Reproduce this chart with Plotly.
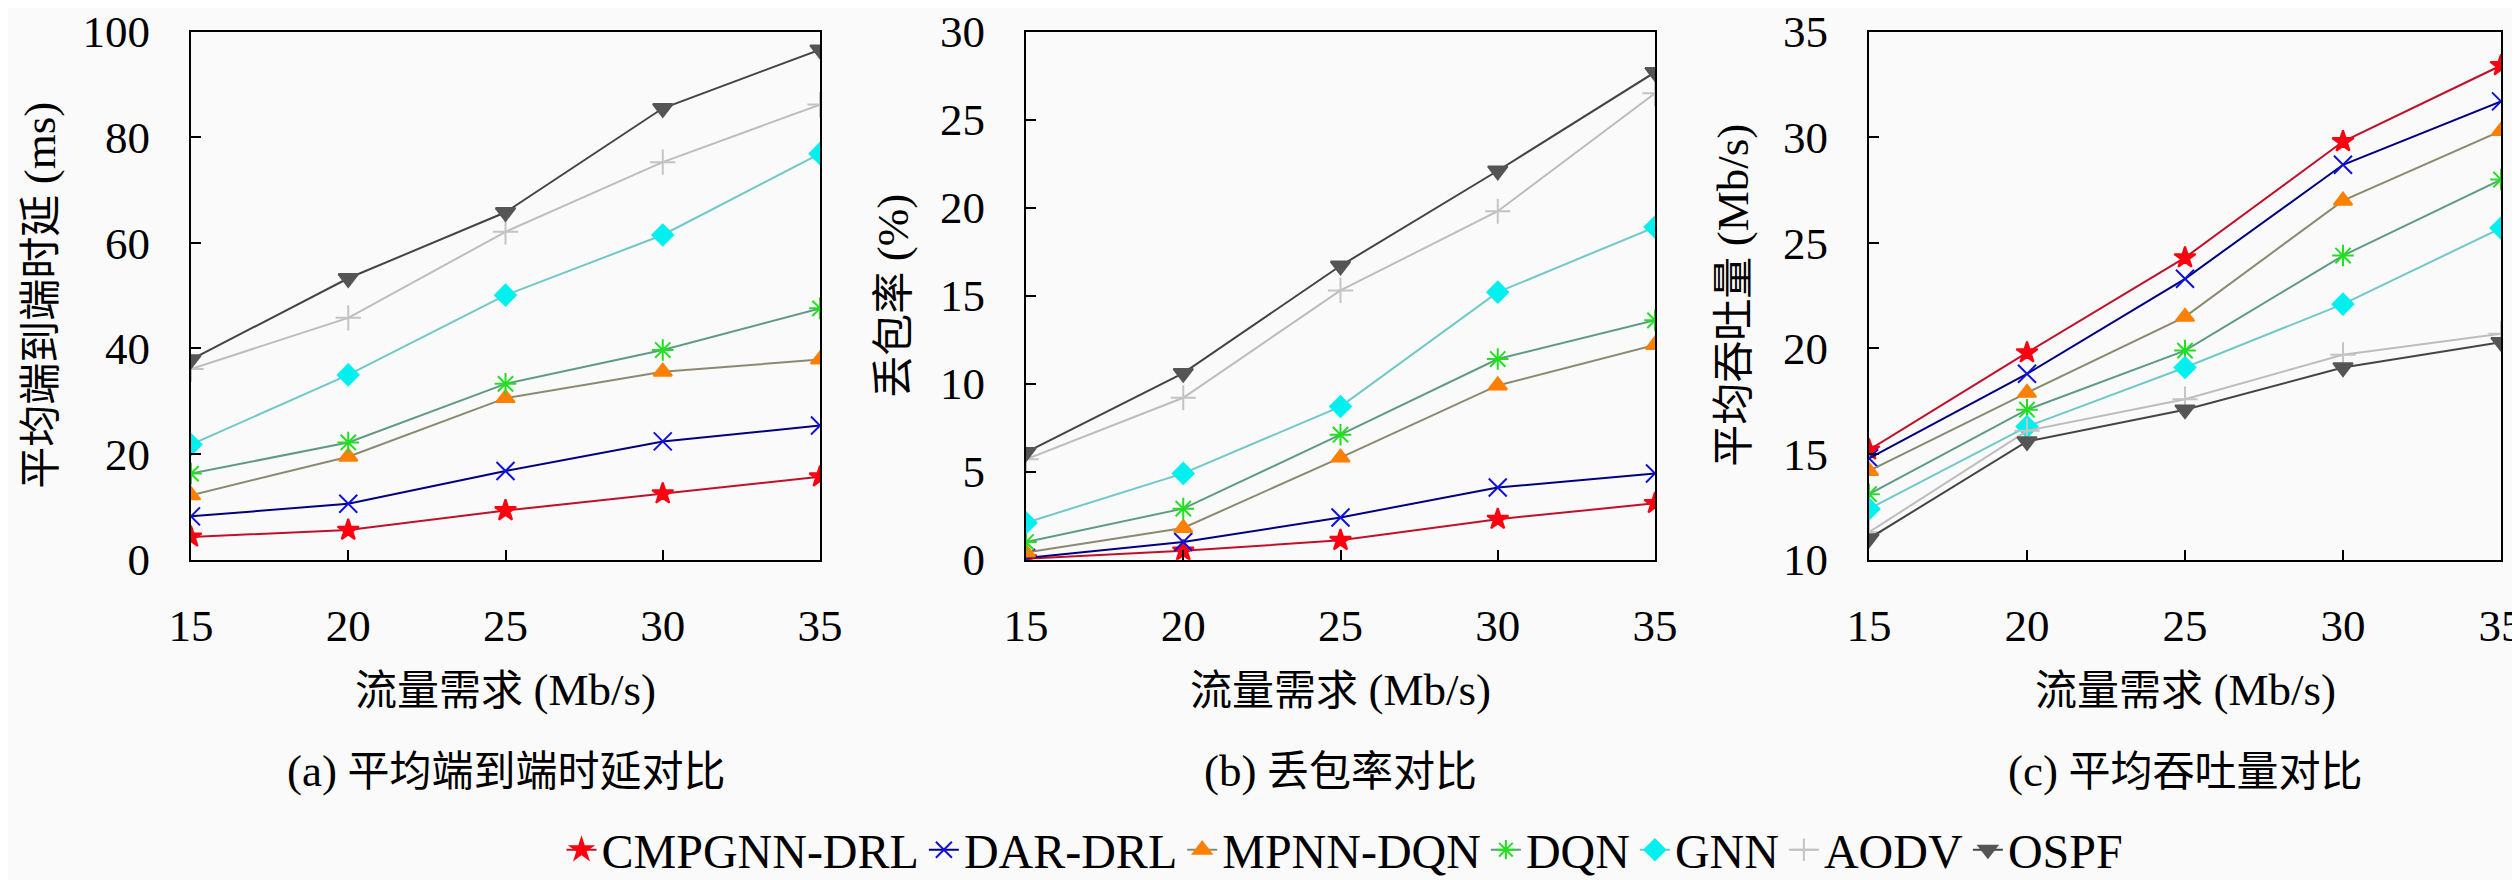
import plotly.graph_objects as go

x_demand = [15, 20, 25, 30, 35]
series_names = ["CMPGNN-DRL", "DAR-DRL", "MPNN-DQN", "DQN", "GNN", "AODV", "OSPF"]

delay_cmpgnn = [4.3, 5.6, 9.3, 12.5, 15.7]
delay_dar = [8.2, 10.6, 16.8, 22.4, 25.4]
delay_mpnn = [12.2, 19.5, 30.6, 35.6, 37.9]
delay_dqn = [16.3, 22.2, 33.3, 39.7, 47.6]
delay_gnn = [21.8, 35.0, 50.1, 61.5, 76.9]
delay_aodv = [36.1, 45.8, 62.1, 75.3, 86.2]
delay_ospf = [37.9, 53.3, 65.8, 85.5, 96.6]

loss_cmpgnn = [0.05, 0.5, 1.1, 2.3, 3.2]
loss_dar = [0.1, 1.0, 2.4, 4.1, 4.9]
loss_mpnn = [0.4, 1.8, 5.8, 9.9, 12.2]
loss_dqn = [1.0, 2.9, 7.1, 11.4, 13.6]
loss_gnn = [2.1, 4.9, 8.7, 15.2, 18.9]
loss_aodv = [5.7, 9.2, 15.3, 19.8, 26.5]
loss_ospf = [6.1, 10.6, 16.7, 22.1, 27.7]

thr_cmpgnn = [15.2, 19.8, 24.3, 29.8, 33.4]
thr_dar = [14.8, 18.8, 23.3, 28.7, 31.7]
thr_mpnn = [14.2, 17.9, 21.5, 27.0, 30.3]
thr_dqn = [13.1, 17.1, 19.9, 24.4, 28.0]
thr_gnn = [12.4, 16.3, 19.1, 22.1, 25.7]
thr_aodv = [11.3, 16.1, 17.6, 19.7, 20.7]
thr_ospf = [11.0, 15.6, 17.1, 19.1, 20.3]

y_ticks_delay = [0, 20, 40, 60, 80, 100]
y_ticks_loss = [0, 5, 10, 15, 20, 25, 30]
y_ticks_thr = [10, 15, 20, 25, 30, 35]

x_title_cjk = "流量需求"
x_title_unit = "(Mb/s)"
y_titles_cjk = ["平均端到端时延", "丢包率", "平均吞吐量"]
y_titles_unit = ["(ms)", "(%)", "(Mb/s)"]
caption_tags = ["(a)", "(b)", "(c)"]
caption_cjk = ["平均端到端时延对比", "丢包率对比", "平均吞吐量对比"]

styles = [
    dict(line="#c0102a", marker="#ff0010", symbol="star", size=16),
    dict(line="#000080", marker="#1010e0", symbol="x-thin-open", size=18),
    dict(line="#8a8a70", marker="#ff7f00", symbol="triangle-up", size=16),
    dict(line="#5e9a86", marker="#20e020", symbol="asterisk-open", size=18),
    dict(line="#70c8c8", marker="#00f0f0", symbol="diamond", size=16),
    dict(line="#bdbdbd", marker="#c4c4c4", symbol="cross-thin-open", size=18),
    dict(line="#444444", marker="#555555", symbol="triangle-down", size=17),
]

panels = [
    [delay_cmpgnn, delay_dar, delay_mpnn, delay_dqn, delay_gnn, delay_aodv, delay_ospf],
    [loss_cmpgnn, loss_dar, loss_mpnn, loss_dqn, loss_gnn, loss_aodv, loss_ospf],
    [thr_cmpgnn, thr_dar, thr_mpnn, thr_dqn, thr_gnn, thr_aodv, thr_ospf],
]
y_ranges = [[0, 100], [0, 30], [10, 35]]
y_tickvals = [y_ticks_delay, y_ticks_loss, y_ticks_thr]

W, H = 2520, 880
FONT = "Liberation Serif, Noto Sans CJK SC, serif"
FS_CJK = 42
FS_LAT = 45

def lat(s):
    return f"<span style='font-size:{FS_LAT}px'>{s}</span>"

x_doms = [(183, 812), (1018, 1647), (1861, 2493)]
y_top, y_bot = 24, 558
ytitle_x = [32, 885, 1725]

fig = go.Figure()
for p in range(3):
    for i, name in enumerate(series_names):
        st = styles[i]
        fig.add_trace(go.Scatter(
            x=x_demand, y=panels[p][i], name=name, mode="lines+markers",
            line=dict(color=st["line"], width=2),
            marker=dict(color=st["marker"], symbol=st["symbol"], size=st["size"],
                        line=dict(color=st["marker"], width=2)),
            xaxis="x" if p == 0 else f"x{p+1}",
            yaxis="y" if p == 0 else f"y{p+1}",
            showlegend=(p == 0),
        ))

axis_common = dict(
    showgrid=False, zeroline=False, showline=True, linecolor="black", linewidth=2,
    mirror=True, ticks="inside", ticklen=10, tickwidth=2, tickcolor="black",
    tickfont=dict(family=FONT, size=FS_LAT, color="black"), automargin=False,
    ticklabeloverflow="allow",
)

layout = dict(
    width=W, height=H,
    margin=dict(l=0, r=0, t=0, b=0),
    paper_bgcolor="#fafafa", plot_bgcolor="#fafafa",
    font=dict(family=FONT, size=FS_CJK, color="black"),
    showlegend=True,
    legend=dict(orientation="h", x=1337 / W, xanchor="center", y=1 - 852 / H,
                yanchor="middle", font=dict(family=FONT, size=48, color="black"),
                bgcolor="rgba(0,0,0,0)", itemwidth=30, tracegroupgap=0),
)
annotations = []
for p in range(3):
    xs = "" if p == 0 else str(p + 1)
    x0, x1 = x_doms[p]
    layout[f"xaxis{xs}"] = dict(
        axis_common, domain=[x0 / W, x1 / W], range=[15, 35],
        tickvals=x_demand, anchor=f"y{xs}", ticklabelstandoff=25,
    )
    layout[f"yaxis{xs}"] = dict(
        axis_common, domain=[1 - y_bot / H, 1 - y_top / H], range=y_ranges[p],
        tickvals=y_tickvals[p], anchor=f"x{xs}", ticklabelstandoff=30,
    )
    cx = (x0 + x1) / 2 / W
    annotations.append(dict(text=f"{x_title_cjk} {lat(x_title_unit)}", x=cx, y=1 - 690 / H,
                            xref="paper", yref="paper", showarrow=False,
                            xanchor="center", yanchor="middle",
                            font=dict(family=FONT, size=FS_CJK, color="black")))
    annotations.append(dict(text=f"{lat(caption_tags[p])} {caption_cjk[p]}", x=cx, y=1 - 772 / H,
                            xref="paper", yref="paper", showarrow=False,
                            xanchor="center", yanchor="middle",
                            font=dict(family=FONT, size=FS_CJK, color="black")))
    annotations.append(dict(text=f"{y_titles_cjk[p]} {lat(y_titles_unit[p])}",
                            x=ytitle_x[p] / W, y=1 - 291 / H,
                            xref="paper", yref="paper", showarrow=False, textangle=-90,
                            xanchor="center", yanchor="middle",
                            font=dict(family=FONT, size=FS_CJK, color="black")))
layout["annotations"] = annotations
fig.update_layout(**layout)
fig.write_html("out.html")
